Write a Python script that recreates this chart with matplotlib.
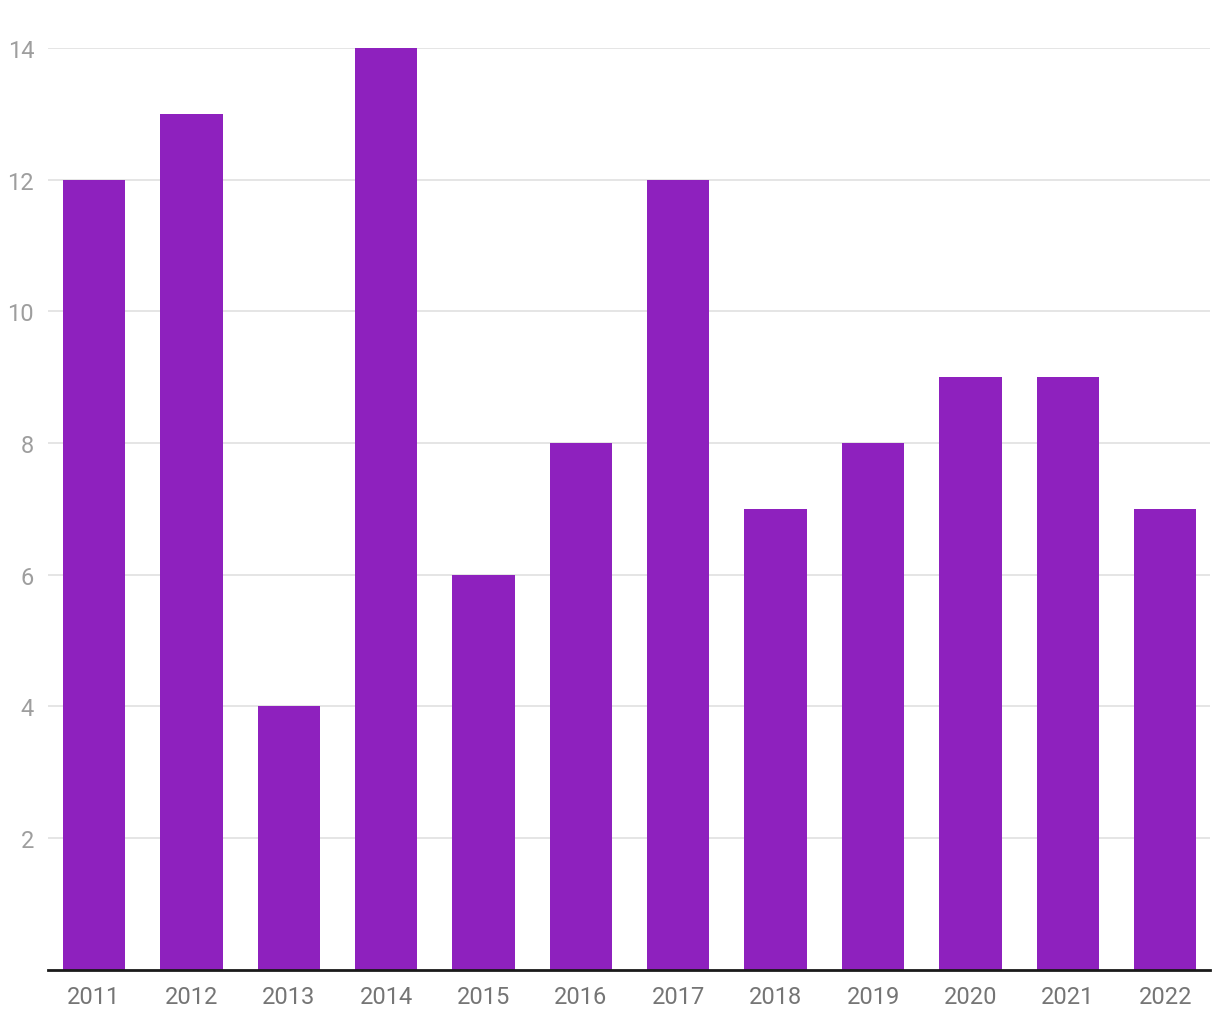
import matplotlib as mpl
mpl.use('Agg')
import matplotlib.pyplot as plt

years = ['2011', '2012', '2013', '2014', '2015', '2016',
         '2017', '2018', '2019', '2020', '2021', '2022']
counts = [12, 13, 4, 14, 6, 8, 12, 7, 8, 9, 9, 7]
yticks = [2, 4, 6, 8, 10, 12, 14]

plt.rcParams['font.family'] = ['Roboto', 'DejaVu Sans']

fig = plt.figure(figsize=(12.2, 10.2), dpi=100)
ax = fig.add_axes([48 / 1220, 49.5 / 1020, 1162 / 1220, 921.5 / 1020])

x = list(range(len(years)))
ax.bar(x, counts, width=0.64, color='#8e21be', zorder=2)

ax.set_xlim(-0.472, 11.46)
ax.set_ylim(0, 14)
ax.set_xticks(x)
ax.set_xticklabels(years, fontsize=17, color='#757575')
ax.set_yticks(yticks)
ax.set_yticklabels([str(v) for v in yticks], fontsize=17, color='#9e9e9e')
ax.tick_params(axis='both', length=0)
ax.tick_params(axis='x', pad=11)
ax.tick_params(axis='y', pad=10)

ax.grid(axis='y', color='#e0e0e0', lw=1.2, zorder=0)
for s in ['top', 'right', 'left']:
    ax.spines[s].set_visible(False)
ax.spines['bottom'].set_color('#1a1a1a')
ax.spines['bottom'].set_linewidth(2)
ax.spines['bottom'].set_zorder(3)

fig.savefig('out.png', dpi=100)
plt.close()
